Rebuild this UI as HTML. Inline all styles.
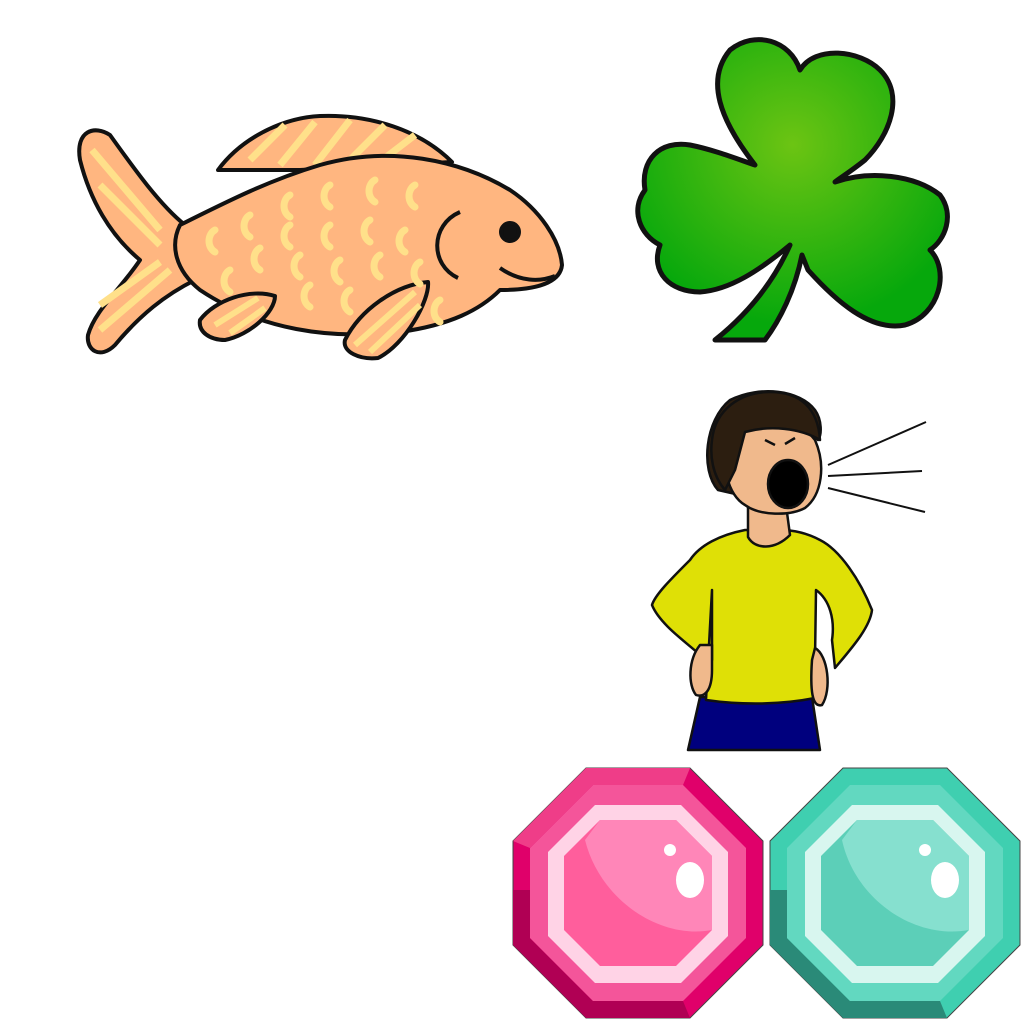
<!DOCTYPE html>
<html><head><meta charset="utf-8"><style>html,body{margin:0;padding:0;background:#fff}svg{display:block}</style></head>
<body>
<svg width="1024" height="1024" viewBox="0 0 1024 1024">
<defs>
<radialGradient id="cg" cx="0.5" cy="0.35" r="0.6"><stop offset="0" stop-color="#6cc413"/><stop offset="1" stop-color="#06a80c"/></radialGradient>
</defs>
<g stroke="#111" stroke-width="4" stroke-linejoin="round">
<path d="M218,170 C240,140 280,118 320,116 C370,114 420,130 452,162 L300,170 Z" fill="#ffb680"/>
<g stroke="#ffe08a" stroke-width="7" fill="none"><path d="M250,160 L285,125"/><path d="M280,165 L315,122"/><path d="M315,165 L350,120"/><path d="M350,160 L385,125"/><path d="M385,158 L415,135"/></g>
<path d="M185,225 C160,205 135,170 110,135 C95,125 75,130 80,160 C90,200 110,235 140,260 C120,290 95,310 88,335 C86,350 100,360 115,345 C140,315 165,295 195,280 Z" fill="#ffb680"/>
<g stroke="#ffe08a" stroke-width="7" fill="none"><path d="M92,150 L160,230"/><path d="M100,185 L160,245"/><path d="M100,330 L170,270"/><path d="M100,305 L160,262"/></g>
<path d="M180,225 C230,200 270,180 320,165 C390,145 460,160 510,190 C540,210 560,240 562,265 C560,285 530,290 500,290 C480,310 450,325 400,332 C330,340 260,330 200,290 C175,270 170,245 180,225 Z" fill="#ffb680"/>
<path d="M460,212 C430,225 430,265 458,278" fill="none"/>
<path d="M500,268 C520,282 540,282 555,276" fill="none"/>
<circle cx="510" cy="232" r="9" fill="#111"/>
<path d="M200,320 C215,300 250,288 275,296 C275,312 250,335 225,340 C210,340 198,332 200,320 Z" fill="#ffb680"/>
<path d="M345,340 C360,310 395,285 428,282 C430,300 405,345 378,358 C360,360 342,352 345,340 Z" fill="#ffb680"/>
<g stroke="#ffe08a" stroke-width="6" fill="none"><path d="M215,325 L258,298"/><path d="M230,333 L265,308"/><path d="M355,345 L415,292"/><path d="M370,352 L420,305"/></g>
<g fill="none" stroke="#ffe08a" stroke-width="7" stroke-linecap="round">
<path d="M290,195 a10,12 0 0 0 0,22"/><path d="M330,185 a10,12 0 0 0 0,22"/><path d="M375,180 a10,12 0 0 0 0,22"/><path d="M415,185 a10,12 0 0 0 0,22"/>
<path d="M250,215 a10,12 0 0 0 0,22"/><path d="M290,225 a10,12 0 0 0 0,22"/><path d="M330,225 a10,12 0 0 0 0,22"/><path d="M370,220 a10,12 0 0 0 0,22"/><path d="M405,230 a10,12 0 0 0 0,22"/>
<path d="M215,230 a10,12 0 0 0 0,22"/><path d="M260,248 a10,12 0 0 0 0,22"/><path d="M300,255 a10,12 0 0 0 0,22"/><path d="M340,260 a10,12 0 0 0 0,22"/><path d="M380,255 a10,12 0 0 0 0,22"/><path d="M420,262 a10,12 0 0 0 0,22"/>
<path d="M230,270 a10,12 0 0 0 0,22"/><path d="M310,285 a10,12 0 0 0 0,22"/><path d="M350,290 a10,12 0 0 0 0,22"/><path d="M440,300 a10,12 0 0 0 0,22"/>
</g>
</g>
<g>
<path stroke="#111" stroke-width="5" fill="url(#cg)" stroke-linejoin="round" d="M755,165 C720,120 705,80 730,50 C755,30 790,40 800,70 C815,45 860,50 880,70 C905,95 890,135 865,160 C850,172 840,178 835,182 C870,170 915,175 940,195 C955,215 945,240 930,250 C950,270 940,315 905,325 C870,332 835,300 808,270 L802,255 C795,290 780,320 765,340 L715,340 C740,320 770,290 790,245 C760,270 730,290 700,292 C670,292 650,272 660,245 C640,235 630,210 645,190 C640,160 660,140 690,145 C715,150 740,160 755,165 Z"/>
</g>
<g stroke="#111" stroke-width="2.5" stroke-linejoin="round">
<g stroke-width="2"><line x1="828" y1="465" x2="926" y2="422"/><line x1="828" y1="476" x2="922" y2="471"/><line x1="828" y1="488" x2="925" y2="512"/></g>
<path d="M700,697 L812,697 L820,750 L688,750 Z" fill="#00007e"/>
<path d="M745,530 C720,535 700,545 690,560 C670,580 655,595 652,605 C660,625 690,645 700,655 L712,660 L712,590 L706,700 C740,705 780,705 815,698 L815,660 L816,590 C830,600 835,620 832,640 L835,668 C850,650 870,628 872,610 C860,580 840,550 820,540 C805,532 790,530 780,530 Z" fill="#dfe006"/>
<path d="M748,505 L748,537 C755,550 775,550 790,535 L786,505 Z" fill="#f0b98c"/>
<path d="M700,645 C688,660 688,685 696,695 C705,698 712,690 712,670 L712,645 Z" fill="#f0b98c"/>
<path d="M815,648 C828,655 832,690 822,705 C812,708 810,690 812,660 Z" fill="#f0b98c"/>
<path d="M718,490 C700,470 705,420 730,400 C760,385 800,390 815,410 C822,420 822,435 818,440 C800,422 770,425 750,435 L740,495 Z" fill="#2c1e10"/>
<path d="M730,440 C750,420 800,418 815,440 C826,465 822,495 805,508 C790,516 760,516 745,505 C728,495 720,465 730,440 Z" fill="#f0b98c"/>
<path d="M712,440 C715,410 740,392 770,392 C800,392 818,408 820,440 C800,428 770,425 745,432 L735,470 L725,490 C712,475 710,455 712,440 Z" fill="#2c1e10"/>
<ellipse cx="788" cy="484" rx="20" ry="24" fill="#000"/>
<path d="M765,440 l10,5 M795,438 l-10,6" fill="none"/>
</g>
<g>
<polygon points="586,768 690,768 763,841 763,945 690,1018 586,1018 513,945 513,841" fill="#e0006a" stroke="#444" stroke-width="1"/>
<polygon points="513,890 530,890 530,938 593,1001 683,1001 690,1018 586,1018 513,945" fill="#b00054"/>
<polygon points="593,785 683,785 746,848 746,938 683,1001 593,1001 530,938 530,848" fill="#f4559a"/>
<polygon points="530,848 593,785 683,785 690,768 586,768 513,841" fill="#ef3d88"/>
<polygon points="595,805 681,805 728,852 728,936 681,983 595,983 548,936 548,852" fill="#ffd3e6"/>
<polygon points="600,820 676,820 712,856 712,930 676,966 600,966 564,930 564,856" fill="#ff5e9c"/>
<path d="M600,820 L676,820 L712,856 L712,930 C660,940 600,900 585,840 Z" fill="#ff86b8"/>
<ellipse cx="690" cy="880" rx="14" ry="18" fill="#fff"/><circle cx="670" cy="850" r="6" fill="#fff"/>
</g>
<g>
<polygon points="843,768 947,768 1020,841 1020,945 947,1018 843,1018 770,945 770,841" fill="#3fcfb0" stroke="#444" stroke-width="1"/>
<polygon points="770,890 787,890 787,938 850,1001 940,1001 947,1018 843,1018 770,945" fill="#2a8a78"/>
<polygon points="850,785 940,785 1003,848 1003,938 940,1001 850,1001 787,938 787,848" fill="#62d8c0"/>
<polygon points="852,805 938,805 985,852 985,936 938,983 852,983 805,936 805,852" fill="#d8f6ef"/>
<polygon points="857,820 933,820 969,856 969,930 933,966 857,966 821,930 821,856" fill="#5ccfb8"/>
<path d="M857,820 L933,820 L969,856 L969,930 C915,940 855,900 842,840 Z" fill="#86e0cf"/>
<ellipse cx="945" cy="880" rx="14" ry="18" fill="#fff"/><circle cx="925" cy="850" r="6" fill="#fff"/>
</g>
</svg>
</body></html>
